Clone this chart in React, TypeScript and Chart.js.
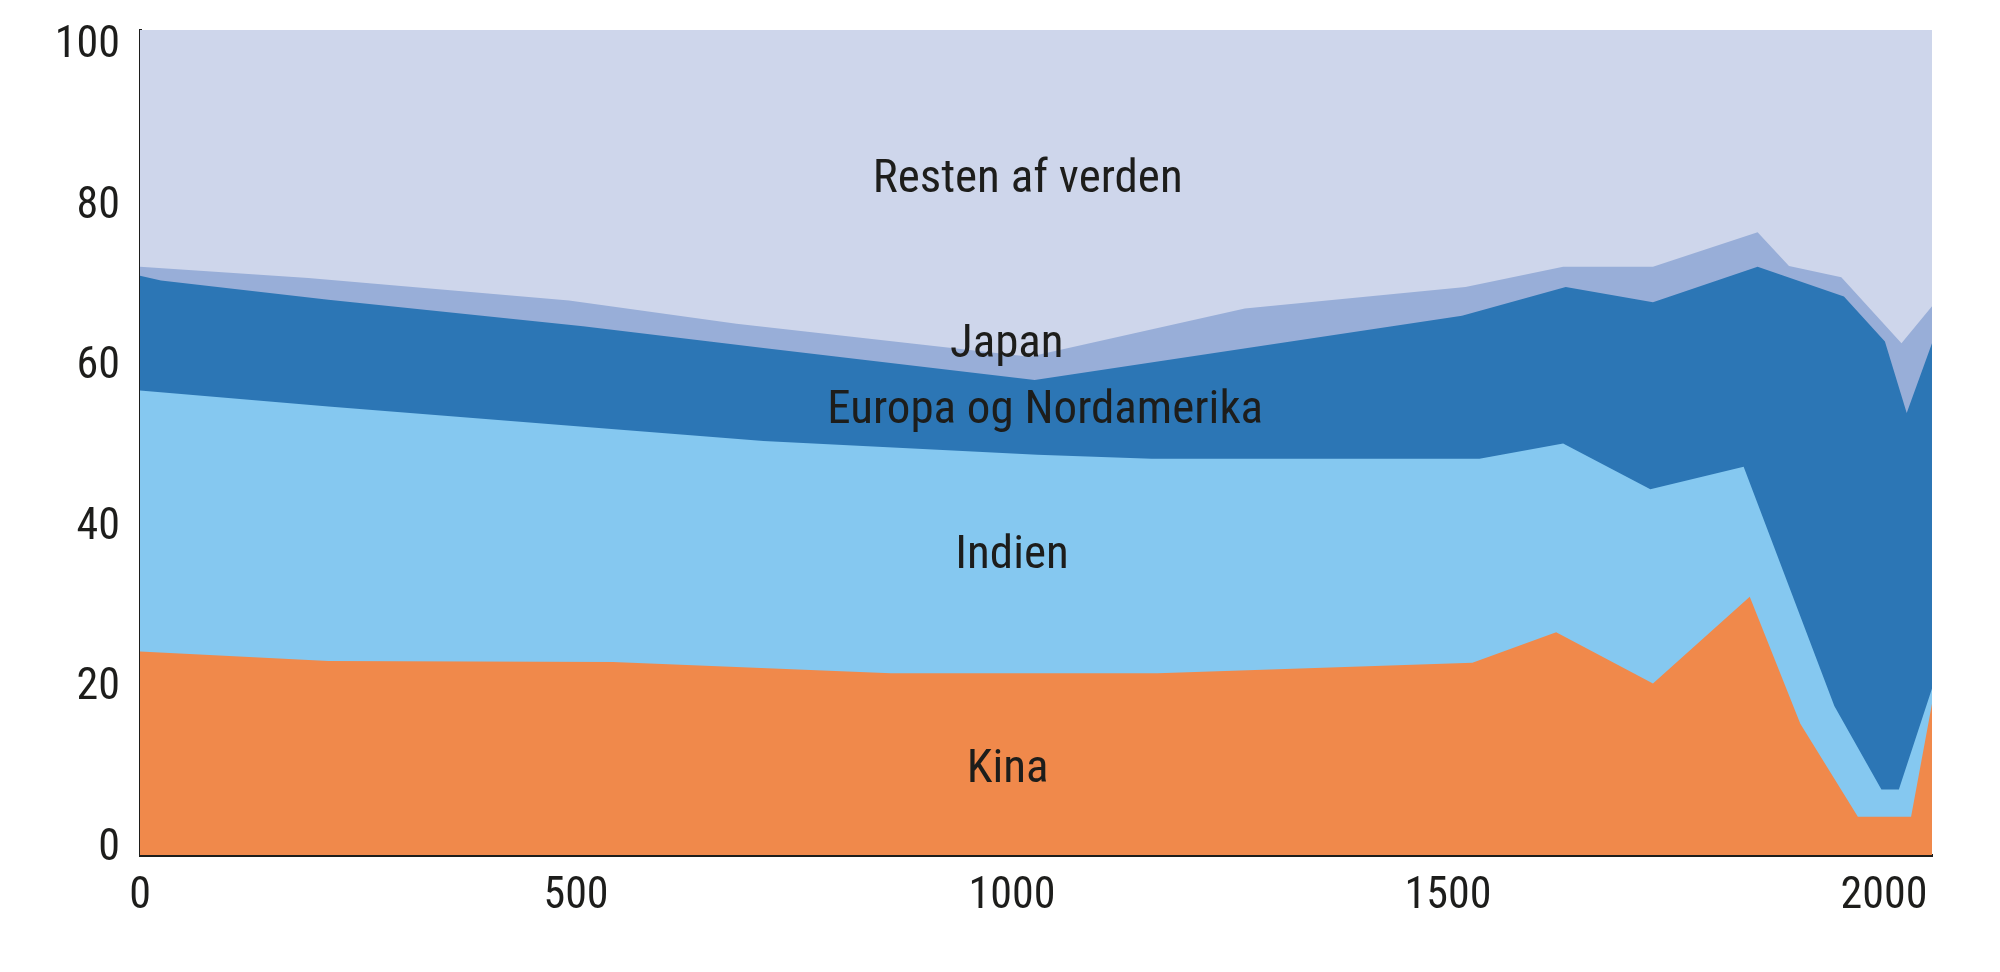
import React, { useEffect, useRef } from "react";
import { Chart, registerables } from "chart.js";

Chart.register(...registerables);

const FONT = '"Roboto Condensed", "Liberation Sans Narrow", Roboto, sans-serif';
const TEXT_COLOR = "#1d1d1b";

const COLORS = {
  kina: "#f0894b",
  indien: "#85c8f0",
  europa: "#2c76b5",
  japan: "#98aed8",
  resten: "#ced6eb",
};

// upper edge of each band in percent
const kinaYears = [0, 216, 542, 861, 1167, 1528, 1624, 1735, 1846, 1904, 1970, 2031, 2055];
const kinaTop = [24.6, 23.4, 23.3, 21.9, 21.9, 23.2, 27.0, 20.6, 31.4, 15.6, 4.0, 4.0, 18.1];

const indienYears = [0, 216, 508, 715, 1029, 1160, 1536, 1632, 1732, 1839, 1943, 1997, 2017, 2055];
const indienTop = [57.1, 55.1, 52.6, 50.8, 49.1, 48.6, 48.6, 50.5, 44.8, 47.6, 17.8, 7.4, 7.4, 20.0];

const europaYears = [0, 24, 216, 508, 715, 1026, 1516, 1635, 1735, 1855, 1954, 2001, 2026, 2055];
const europaTop = [71.4, 70.8, 68.4, 65.1, 62.4, 58.4, 66.4, 70.0, 68.1, 72.5, 68.8, 63.2, 54.3, 63.0];

const japanYears = [0, 193, 492, 684, 1020, 1267, 1520, 1632, 1735, 1855, 1891, 1951, 2020, 2055];
const japanTop = [72.5, 71.1, 68.3, 65.4, 61.3, 67.3, 70.0, 72.5, 72.5, 76.8, 72.6, 71.2, 63.0, 67.6];

// the drawn area runs a little past the "100" label
const restenYears = [0, 2055];
const restenTop = [102, 102];

// in-chart labels: text, year, value at the text baseline
const bandLabels = ["Kina", "Indien", "Europa og Nordamerika", "Japan", "Resten af verden"];
const labelYears = [995, 1000, 1038, 994, 1018];
const labelValues = [8.3, 35.0, 53.0, 61.3, 81.8];

const xTicks = [0, 500, 1000, 1500, 2000];
const yTicks = [0, 20, 40, 60, 80, 100];

const toPoints = (xs: number[], ys: number[]) => xs.map((x, i) => ({ x, y: ys[i] }));

const band = (label: string, xs: number[], ys: number[], color: string) => ({
  label,
  data: toPoints(xs, ys),
  backgroundColor: color,
  borderColor: color,
  borderWidth: 0,
  pointRadius: 0,
  tension: 0,
  fill: "start",
});

const bandLabelPlugin = {
  id: "bandLabels",
  afterDatasetsDraw(chart: Chart) {
    const { ctx, scales } = chart;
    ctx.save();
    ctx.font = `47px ${FONT}`;
    ctx.fillStyle = TEXT_COLOR;
    ctx.textAlign = "center";
    ctx.textBaseline = "alphabetic";
    bandLabels.forEach((text, i) => {
      ctx.fillText(
        text,
        scales.x.getPixelForValue(labelYears[i]),
        scales.y.getPixelForValue(labelValues[i])
      );
    });
    ctx.restore();
  },
};

export default function App() {
  const canvasRef = useRef<HTMLCanvasElement | null>(null);

  useEffect(() => {
    const canvas = canvasRef.current;
    if (!canvas) return;

    // dataset 0 is painted last, so the lowest band sits on top
    const chart = new Chart(canvas, {
      type: "line",
      data: {
        datasets: [
          band("Kina", kinaYears, kinaTop, COLORS.kina),
          band("Indien", indienYears, indienTop, COLORS.indien),
          band("Europa og Nordamerika", europaYears, europaTop, COLORS.europa),
          band("Japan", japanYears, japanTop, COLORS.japan),
          band("Resten af verden", restenYears, restenTop, COLORS.resten),
        ],
      },
      options: {
        animation: false,
        responsive: true,
        maintainAspectRatio: false,
        layout: { padding: { top: 30, right: 68, bottom: 0, left: 0 } },
        plugins: {
          legend: { display: false },
          tooltip: { enabled: false },
        },
        scales: {
          x: {
            type: "linear",
            min: 0,
            max: 2055,
            z: 1,
            grid: { display: false },
            border: { display: true, color: TEXT_COLOR, width: 3 },
            afterBuildTicks: (scale: any) => {
              scale.ticks = xTicks.map((value) => ({ value }));
            },
            afterFit: (scale: any) => {
              scale.height = 117;
              scale.paddingLeft = 0;
              scale.paddingRight = 0;
            },
            ticks: {
              padding: 8,
              maxRotation: 0,
              autoSkip: false,
              color: TEXT_COLOR,
              font: { family: FONT, size: 44 },
              callback: (value: any) => String(value),
            },
          },
          y: {
            min: -0.75,
            max: 102,
            z: 1,
            grid: { display: false },
            border: { display: true, color: TEXT_COLOR, width: 3 },
            afterBuildTicks: (scale: any) => {
              scale.ticks = yTicks.map((value) => ({ value }));
            },
            afterFit: (scale: any) => {
              scale.width = 140;
              scale.paddingTop = 0;
              scale.paddingBottom = 0;
            },
            ticks: {
              padding: 12,
              color: TEXT_COLOR,
              font: { family: FONT, size: 44 },
            },
          },
        },
      },
      plugins: [bandLabelPlugin],
    });

    return () => chart.destroy();
  }, []);

  return (
    <div
      style={{
        position: "fixed",
        left: 0,
        top: 0,
        width: 2000,
        height: 972,
        background: "#fff",
      }}
    >
      <canvas ref={canvasRef} />
    </div>
  );
}
